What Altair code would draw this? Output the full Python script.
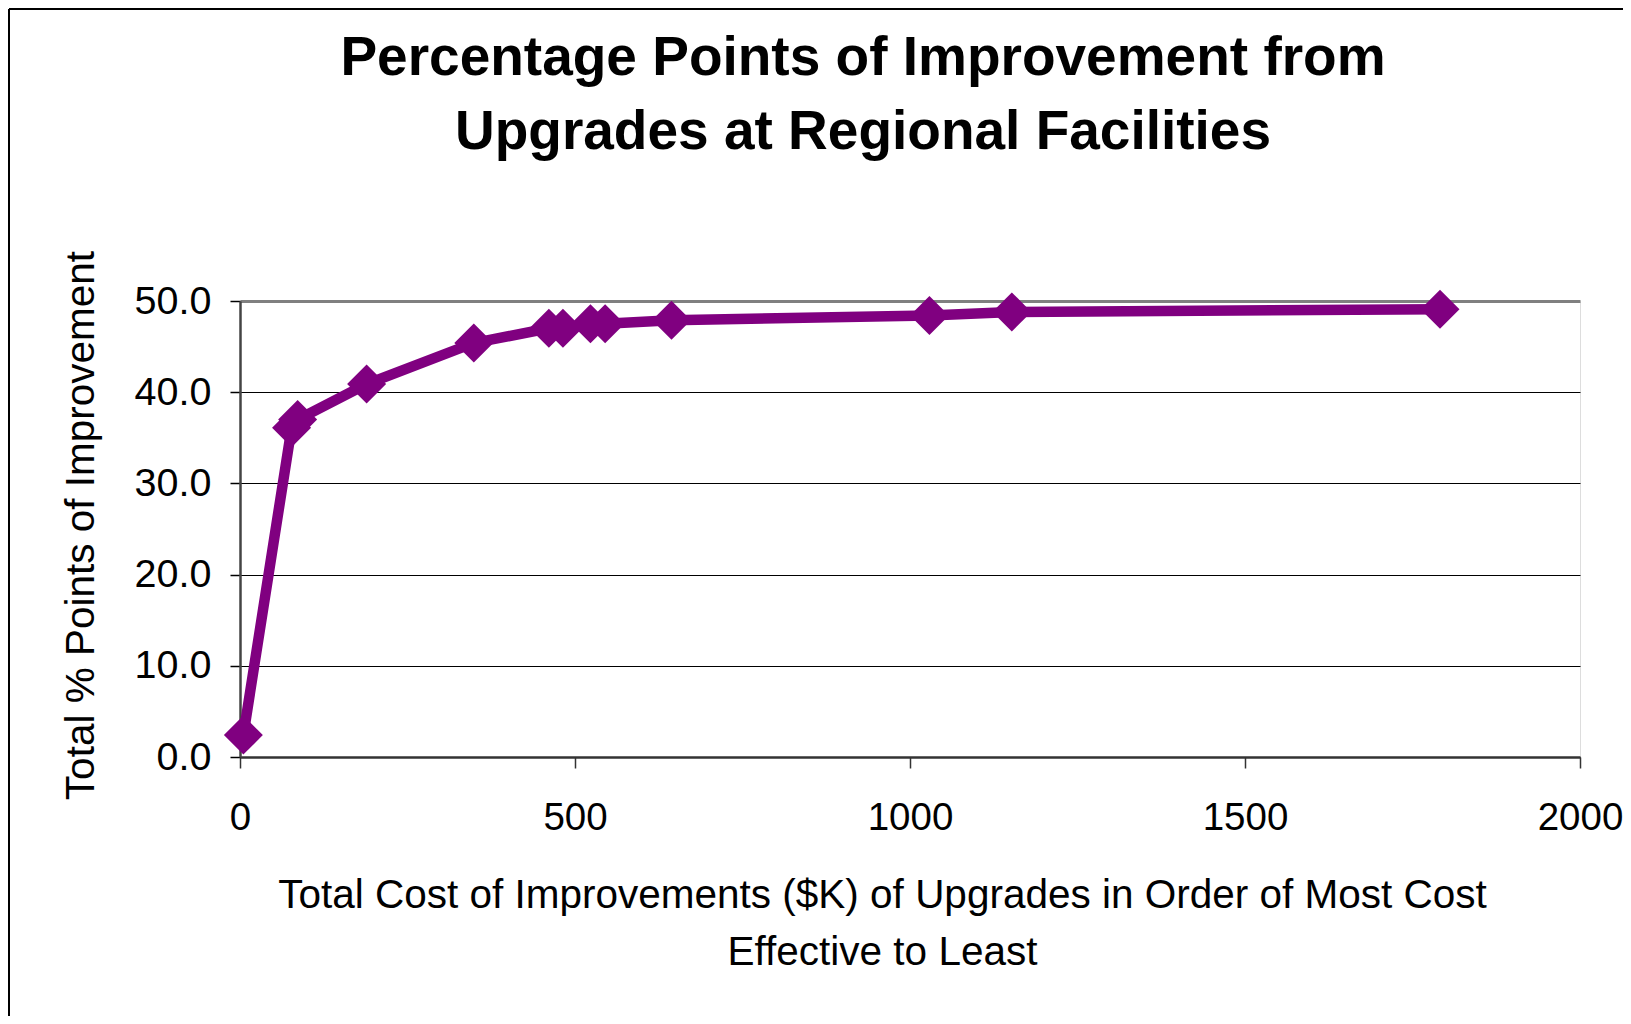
import altair as alt
import pandas as pd

# ---- data ----
cost = [5, 77, 86, 189, 349, 461, 482, 523, 545, 644, 1029, 1152, 1791]
improvement = [2.4, 36.1, 37.0, 40.9, 45.4, 47.0, 47.0, 47.5, 47.5, 47.9, 48.4, 48.8, 49.1]
x_ticks = [0, 500, 1000, 1500, 2000]
y_ticks = [0, 10, 20, 30, 40, 50]

title_lines = ["Percentage Points of Improvement from", "Upgrades at Regional Facilities"]
x_title = ["Total Cost of Improvements ($K) of Upgrades in Order of Most Cost", "Effective to Least"]
y_title = "Total % Points of Improvement"

df = pd.DataFrame({"cost": cost, "imp": improvement, "order": list(range(len(cost)))})
frame_df = pd.DataFrame({"k": [0]})

FONT = "Liberation Sans"
PURPLE = "#800080"
W, H = 1340, 456
PAD = {"left": 232, "top": 293, "right": 43, "bottom": 259}

x_enc = alt.X(
    "cost:Q",
    scale=alt.Scale(domain=[0, 2000], nice=False, zero=False),
    axis=alt.Axis(
        values=x_ticks, format="d", title=x_title, grid=False,
        labelFont=FONT, labelFontSize=38.5, labelColor="black", labelPadding=31,
        labelFlush=False, labelOverlap=False, labelBound=False,
        tickSize=11, tickColor="#333333", tickWidth=1.5,
        domainColor="#333333", domainWidth=2.5,
        titleFont=FONT, titleFontSize=40.5, titleFontWeight="normal", titleColor="black",
        titleX=642, titleY=118, titleBaseline="top", titleAlign="center",
        titleLineHeight=57,
    ),
)
y_enc = alt.Y(
    "imp:Q",
    scale=alt.Scale(domain=[0, 50], nice=False, zero=True),
    axis=alt.Axis(
        values=y_ticks, format=".1f", title=y_title,
        grid=True,
        gridColor=alt.condition("datum.value == 50", alt.value("#808080"), alt.value("black")),
        gridWidth=alt.condition("datum.value == 50", alt.value(3), alt.value(1)),
        labelFont=FONT, labelFontSize=39.5, labelColor="black", labelPadding=19,
        labelFlush=False, labelOverlap=False, labelBound=False,
        tickSize=10, tickColor="black", tickWidth=1.5,
        domainColor="#444444", domainWidth=2.5,
        titleFont=FONT, titleFontSize=40.5, titleFontWeight="normal", titleColor="black",
        titleX=-159, titleY=224, titleAngle=270, titleBaseline="middle", titleAlign="center",
    ),
)

base = alt.Chart(df)
line = base.mark_line(color=PURPLE, strokeWidth=10.5).encode(x=x_enc, y=y_enc, order="order:Q")
pts = base.mark_point(shape="diamond", filled=True, size=1521, color=PURPLE, opacity=1).encode(
    x="cost:Q", y="imp:Q"
)

# outer chart frame (left and top edges visible in the reference)
frame_left = alt.Chart(frame_df).mark_rule(color="black", strokeWidth=2).encode(
    x=alt.value(-231), y=alt.value(-292), y2=alt.value(H + PAD["bottom"])
)
frame_top = alt.Chart(frame_df).mark_rule(color="black", strokeWidth=2).encode(
    x=alt.value(-231), x2=alt.value(W + PAD["right"]), y=alt.value(-292)
)

chart = (
    alt.layer(frame_left, frame_top, line, pts)
    .properties(
        width=W, height=H,
        padding=PAD,
        autosize=alt.AutoSizeParams(type="none"),
        title=alt.TitleParams(
            text=title_lines, font=FONT, fontSize=55, fontWeight="bold", color="black",
            anchor="middle", frame="group", lineHeight=74, baseline="bottom",
            offset=0, dx=-47, dy=208,
        ),
    )
    .configure_view(stroke="#808080", strokeWidth=3)
    .configure(background="white")
)

chart.save("out.html", embed_options={"renderer": "svg", "actions": False})
